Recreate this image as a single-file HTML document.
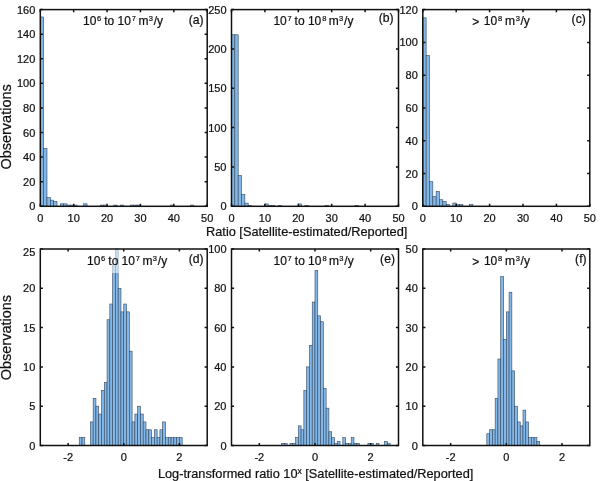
<!DOCTYPE html>
<html><head><meta charset="utf-8"><title>Histograms</title>
<style>
html,body{margin:0;padding:0;background:#fff;}
body{width:602px;height:481px;overflow:hidden;}
svg{display:block;will-change:transform;}
text{font-family:"Liberation Sans", sans-serif;fill:#111;stroke:#111;stroke-width:0.22px;}
.t{font-size:11px;}
.ti{font-size:12px;}
.sup{font-size:7.5px;}
.sup2{font-size:8.5px;}
.lt{font-size:12.2px;}
.xl{font-size:12.75px;}
.yl{font-size:14.5px;}
</style></head><body>
<svg width="602" height="481" viewBox="0 0 602 481">
<rect x="0" y="0" width="602" height="481" fill="#fff"/>
<g>
<rect x="40.3" y="16.98" width="3.34" height="189.32" fill="#82b7e8" stroke="#34475c" stroke-width="0.6"/>
<rect x="43.64" y="148.52" width="3.34" height="57.78" fill="#82b7e8" stroke="#34475c" stroke-width="0.6"/>
<rect x="46.98" y="197.69" width="3.34" height="8.61" fill="#82b7e8" stroke="#34475c" stroke-width="0.6"/>
<rect x="50.31" y="200.15" width="3.34" height="6.15" fill="#82b7e8" stroke="#34475c" stroke-width="0.6"/>
<rect x="53.65" y="201.38" width="3.34" height="4.92" fill="#82b7e8" stroke="#34475c" stroke-width="0.6"/>
<rect x="60.33" y="203.84" width="3.34" height="2.46" fill="#82b7e8" stroke="#34475c" stroke-width="0.6"/>
<rect x="63.67" y="203.84" width="3.34" height="2.46" fill="#82b7e8" stroke="#34475c" stroke-width="0.6"/>
<rect x="67" y="205.07" width="3.34" height="1.23" fill="#82b7e8" stroke="#34475c" stroke-width="0.6"/>
<rect x="70.34" y="205.07" width="3.34" height="1.23" fill="#82b7e8" stroke="#34475c" stroke-width="0.6"/>
<rect x="73.68" y="205.07" width="3.34" height="1.23" fill="#82b7e8" stroke="#34475c" stroke-width="0.6"/>
<rect x="83.69" y="203.84" width="3.34" height="2.46" fill="#82b7e8" stroke="#34475c" stroke-width="0.6"/>
<rect x="100.38" y="205.07" width="3.34" height="1.23" fill="#82b7e8" stroke="#34475c" stroke-width="0.6"/>
<rect x="103.72" y="205.07" width="3.34" height="1.23" fill="#82b7e8" stroke="#34475c" stroke-width="0.6"/>
<rect x="113.74" y="205.07" width="3.34" height="1.23" fill="#82b7e8" stroke="#34475c" stroke-width="0.6"/>
<rect x="120.41" y="205.07" width="3.34" height="1.23" fill="#82b7e8" stroke="#34475c" stroke-width="0.6"/>
<rect x="130.43" y="205.07" width="3.34" height="1.23" fill="#82b7e8" stroke="#34475c" stroke-width="0.6"/>
<rect x="133.76" y="205.07" width="3.34" height="1.23" fill="#82b7e8" stroke="#34475c" stroke-width="0.6"/>
<rect x="137.1" y="205.07" width="3.34" height="1.23" fill="#82b7e8" stroke="#34475c" stroke-width="0.6"/>
<rect x="170.48" y="205.07" width="3.34" height="1.23" fill="#82b7e8" stroke="#34475c" stroke-width="0.6"/>
<rect x="190.51" y="205.07" width="3.34" height="1.23" fill="#82b7e8" stroke="#34475c" stroke-width="0.6"/>
<rect x="40.3" y="9.6" width="166.9" height="196.7" fill="none" stroke="#111" stroke-width="1.5"/>
<path d="M40.3 206.3v-2.6M40.3 9.6v2.6M73.68 206.3v-2.6M73.68 9.6v2.6M107.06 206.3v-2.6M107.06 9.6v2.6M140.44 206.3v-2.6M140.44 9.6v2.6M173.82 206.3v-2.6M173.82 9.6v2.6M207.2 206.3v-2.6M207.2 9.6v2.6M40.3 206.3h2.6M207.2 206.3h-2.6M40.3 181.71h2.6M207.2 181.71h-2.6M40.3 157.12h2.6M207.2 157.12h-2.6M40.3 132.54h2.6M207.2 132.54h-2.6M40.3 107.95h2.6M207.2 107.95h-2.6M40.3 83.36h2.6M207.2 83.36h-2.6M40.3 58.78h2.6M207.2 58.78h-2.6M40.3 34.19h2.6M207.2 34.19h-2.6M40.3 9.6h2.6M207.2 9.6h-2.6" stroke="#111" stroke-width="1.5" fill="none"/>
<text x="40.3" y="221.6" text-anchor="middle" class="t">0</text>
<text x="73.68" y="221.6" text-anchor="middle" class="t">10</text>
<text x="107.06" y="221.6" text-anchor="middle" class="t">20</text>
<text x="140.44" y="221.6" text-anchor="middle" class="t">30</text>
<text x="173.82" y="221.6" text-anchor="middle" class="t">40</text>
<text x="207.2" y="221.6" text-anchor="middle" class="t">50</text>
<text x="35.3" y="210.3" text-anchor="end" class="t">0</text>
<text x="35.3" y="185.71" text-anchor="end" class="t">20</text>
<text x="35.3" y="161.12" text-anchor="end" class="t">40</text>
<text x="35.3" y="136.54" text-anchor="end" class="t">60</text>
<text x="35.3" y="111.95" text-anchor="end" class="t">80</text>
<text x="35.3" y="87.36" text-anchor="end" class="t">100</text>
<text x="35.3" y="62.78" text-anchor="end" class="t">120</text>
<text x="35.3" y="38.19" text-anchor="end" class="t">140</text>
<text x="35.3" y="13.6" text-anchor="end" class="t">160</text>
<text x="82.99" y="24.8" class="ti">10</text>
<text x="97.02" y="21.1" class="sup">6</text>
<text x="104.22" y="24.8" class="ti">to</text>
<text x="117.49" y="24.8" class="ti">10</text>
<text x="131.72" y="21.1" class="sup">7</text>
<text x="138.41" y="24.8" class="ti">m</text>
<text x="148.72" y="21.1" class="sup">3</text>
<text x="153.7" y="24.8" class="ti">/y</text>
<text x="203.7" y="24.3" text-anchor="end" class="lt">(a)</text>
</g>
<g>
<rect x="231.5" y="34.78" width="3.34" height="171.52" fill="#82b7e8" stroke="#34475c" stroke-width="0.6"/>
<rect x="234.84" y="34.78" width="3.34" height="171.52" fill="#82b7e8" stroke="#34475c" stroke-width="0.6"/>
<rect x="238.18" y="175.61" width="3.34" height="30.69" fill="#82b7e8" stroke="#34475c" stroke-width="0.6"/>
<rect x="241.52" y="194.5" width="3.34" height="11.8" fill="#82b7e8" stroke="#34475c" stroke-width="0.6"/>
<rect x="244.86" y="203.15" width="3.34" height="3.15" fill="#82b7e8" stroke="#34475c" stroke-width="0.6"/>
<rect x="248.2" y="205.51" width="3.34" height="0.79" fill="#82b7e8" stroke="#34475c" stroke-width="0.6"/>
<rect x="264.9" y="203.94" width="3.34" height="2.36" fill="#82b7e8" stroke="#34475c" stroke-width="0.6"/>
<rect x="268.24" y="205.51" width="3.34" height="0.79" fill="#82b7e8" stroke="#34475c" stroke-width="0.6"/>
<rect x="271.58" y="205.51" width="3.34" height="0.79" fill="#82b7e8" stroke="#34475c" stroke-width="0.6"/>
<rect x="278.26" y="205.51" width="3.34" height="0.79" fill="#82b7e8" stroke="#34475c" stroke-width="0.6"/>
<rect x="298.3" y="203.94" width="3.34" height="2.36" fill="#82b7e8" stroke="#34475c" stroke-width="0.6"/>
<rect x="304.98" y="205.51" width="3.34" height="0.79" fill="#82b7e8" stroke="#34475c" stroke-width="0.6"/>
<rect x="325.02" y="205.51" width="3.34" height="0.79" fill="#82b7e8" stroke="#34475c" stroke-width="0.6"/>
<rect x="355.08" y="205.51" width="3.34" height="0.79" fill="#82b7e8" stroke="#34475c" stroke-width="0.6"/>
<rect x="231.5" y="9.6" width="167" height="196.7" fill="none" stroke="#111" stroke-width="1.5"/>
<path d="M231.5 206.3v-2.6M231.5 9.6v2.6M264.9 206.3v-2.6M264.9 9.6v2.6M298.3 206.3v-2.6M298.3 9.6v2.6M331.7 206.3v-2.6M331.7 9.6v2.6M365.1 206.3v-2.6M365.1 9.6v2.6M398.5 206.3v-2.6M398.5 9.6v2.6M231.5 206.3h2.6M398.5 206.3h-2.6M231.5 166.96h2.6M398.5 166.96h-2.6M231.5 127.62h2.6M398.5 127.62h-2.6M231.5 88.28h2.6M398.5 88.28h-2.6M231.5 48.94h2.6M398.5 48.94h-2.6M231.5 9.6h2.6M398.5 9.6h-2.6" stroke="#111" stroke-width="1.5" fill="none"/>
<text x="231.5" y="221.6" text-anchor="middle" class="t">0</text>
<text x="264.9" y="221.6" text-anchor="middle" class="t">10</text>
<text x="298.3" y="221.6" text-anchor="middle" class="t">20</text>
<text x="331.7" y="221.6" text-anchor="middle" class="t">30</text>
<text x="365.1" y="221.6" text-anchor="middle" class="t">40</text>
<text x="398.5" y="221.6" text-anchor="middle" class="t">50</text>
<text x="226.5" y="210.3" text-anchor="end" class="t">0</text>
<text x="226.5" y="170.96" text-anchor="end" class="t">50</text>
<text x="226.5" y="131.62" text-anchor="end" class="t">100</text>
<text x="226.5" y="92.28" text-anchor="end" class="t">150</text>
<text x="226.5" y="52.94" text-anchor="end" class="t">200</text>
<text x="226.5" y="13.6" text-anchor="end" class="t">250</text>
<text x="273.39" y="25" class="ti">10</text>
<text x="287.42" y="21.3" class="sup">7</text>
<text x="294.62" y="25" class="ti">to</text>
<text x="307.89" y="25" class="ti">10</text>
<text x="322.18" y="21.3" class="sup">8</text>
<text x="328.81" y="25" class="ti">m</text>
<text x="339.11" y="21.3" class="sup">3</text>
<text x="344.1" y="25" class="ti">/y</text>
<text x="393.7" y="22.3" text-anchor="end" class="lt">(b)</text>
</g>
<g>
<rect x="422.8" y="17.8" width="3.34" height="188.5" fill="#82b7e8" stroke="#34475c" stroke-width="0.6"/>
<rect x="426.14" y="55.5" width="3.34" height="150.8" fill="#82b7e8" stroke="#34475c" stroke-width="0.6"/>
<rect x="429.48" y="181.71" width="3.34" height="24.59" fill="#82b7e8" stroke="#34475c" stroke-width="0.6"/>
<rect x="432.82" y="196.47" width="3.34" height="9.84" fill="#82b7e8" stroke="#34475c" stroke-width="0.6"/>
<rect x="436.16" y="191.55" width="3.34" height="14.75" fill="#82b7e8" stroke="#34475c" stroke-width="0.6"/>
<rect x="439.5" y="199.74" width="3.34" height="6.56" fill="#82b7e8" stroke="#34475c" stroke-width="0.6"/>
<rect x="442.84" y="201.38" width="3.34" height="4.92" fill="#82b7e8" stroke="#34475c" stroke-width="0.6"/>
<rect x="446.18" y="204.66" width="3.34" height="1.64" fill="#82b7e8" stroke="#34475c" stroke-width="0.6"/>
<rect x="452.86" y="203.02" width="3.34" height="3.28" fill="#82b7e8" stroke="#34475c" stroke-width="0.6"/>
<rect x="456.2" y="204.66" width="3.34" height="1.64" fill="#82b7e8" stroke="#34475c" stroke-width="0.6"/>
<rect x="459.54" y="204.66" width="3.34" height="1.64" fill="#82b7e8" stroke="#34475c" stroke-width="0.6"/>
<rect x="469.56" y="204.66" width="3.34" height="1.64" fill="#82b7e8" stroke="#34475c" stroke-width="0.6"/>
<rect x="422.8" y="9.6" width="167" height="196.7" fill="none" stroke="#111" stroke-width="1.5"/>
<path d="M422.8 206.3v-2.6M422.8 9.6v2.6M456.2 206.3v-2.6M456.2 9.6v2.6M489.6 206.3v-2.6M489.6 9.6v2.6M523 206.3v-2.6M523 9.6v2.6M556.4 206.3v-2.6M556.4 9.6v2.6M589.8 206.3v-2.6M589.8 9.6v2.6M422.8 206.3h2.6M589.8 206.3h-2.6M422.8 173.52h2.6M589.8 173.52h-2.6M422.8 140.73h2.6M589.8 140.73h-2.6M422.8 107.95h2.6M589.8 107.95h-2.6M422.8 75.17h2.6M589.8 75.17h-2.6M422.8 42.38h2.6M589.8 42.38h-2.6M422.8 9.6h2.6M589.8 9.6h-2.6" stroke="#111" stroke-width="1.5" fill="none"/>
<text x="422.8" y="221.6" text-anchor="middle" class="t">0</text>
<text x="456.2" y="221.6" text-anchor="middle" class="t">10</text>
<text x="489.6" y="221.6" text-anchor="middle" class="t">20</text>
<text x="523" y="221.6" text-anchor="middle" class="t">30</text>
<text x="556.4" y="221.6" text-anchor="middle" class="t">40</text>
<text x="589.8" y="221.6" text-anchor="middle" class="t">50</text>
<text x="417.8" y="210.3" text-anchor="end" class="t">0</text>
<text x="417.8" y="177.52" text-anchor="end" class="t">20</text>
<text x="417.8" y="144.73" text-anchor="end" class="t">40</text>
<text x="417.8" y="111.95" text-anchor="end" class="t">60</text>
<text x="417.8" y="79.17" text-anchor="end" class="t">80</text>
<text x="417.8" y="46.38" text-anchor="end" class="t">100</text>
<text x="417.8" y="13.6" text-anchor="end" class="t">120</text>
<text x="472.21" y="25.8" class="ti">&gt;</text>
<text x="483.79" y="25" class="ti">10</text>
<text x="497.88" y="21.3" class="sup">8</text>
<text x="505.01" y="25" class="ti">m</text>
<text x="515.72" y="21.3" class="sup">3</text>
<text x="520.5" y="25" class="ti">/y</text>
<text x="585.8" y="23.1" text-anchor="end" class="lt">(c)</text>
</g>
<g>
<rect x="79.24" y="437.64" width="2.78" height="7.86" fill="#82b7e8" stroke="#34475c" stroke-width="0.6"/>
<rect x="82.02" y="437.64" width="2.78" height="7.86" fill="#82b7e8" stroke="#34475c" stroke-width="0.6"/>
<rect x="90.37" y="421.92" width="2.78" height="23.58" fill="#82b7e8" stroke="#34475c" stroke-width="0.6"/>
<rect x="93.15" y="398.34" width="2.78" height="47.16" fill="#82b7e8" stroke="#34475c" stroke-width="0.6"/>
<rect x="95.93" y="406.2" width="2.78" height="39.3" fill="#82b7e8" stroke="#34475c" stroke-width="0.6"/>
<rect x="98.71" y="414.06" width="2.78" height="31.44" fill="#82b7e8" stroke="#34475c" stroke-width="0.6"/>
<rect x="101.5" y="390.48" width="2.78" height="55.02" fill="#82b7e8" stroke="#34475c" stroke-width="0.6"/>
<rect x="104.28" y="382.62" width="2.78" height="62.88" fill="#82b7e8" stroke="#34475c" stroke-width="0.6"/>
<rect x="107.06" y="319.74" width="2.78" height="125.76" fill="#82b7e8" stroke="#34475c" stroke-width="0.6"/>
<rect x="109.84" y="304.02" width="2.78" height="141.48" fill="#82b7e8" stroke="#34475c" stroke-width="0.6"/>
<rect x="112.62" y="264.72" width="2.78" height="180.78" fill="#82b7e8" stroke="#34475c" stroke-width="0.6"/>
<rect x="115.4" y="249" width="2.78" height="196.5" fill="#82b7e8" stroke="#34475c" stroke-width="0.6"/>
<rect x="118.19" y="288.3" width="2.78" height="157.2" fill="#82b7e8" stroke="#34475c" stroke-width="0.6"/>
<rect x="120.97" y="311.88" width="2.78" height="133.62" fill="#82b7e8" stroke="#34475c" stroke-width="0.6"/>
<rect x="123.75" y="304.02" width="2.78" height="141.48" fill="#82b7e8" stroke="#34475c" stroke-width="0.6"/>
<rect x="126.53" y="311.88" width="2.78" height="133.62" fill="#82b7e8" stroke="#34475c" stroke-width="0.6"/>
<rect x="129.31" y="351.18" width="2.78" height="94.32" fill="#82b7e8" stroke="#34475c" stroke-width="0.6"/>
<rect x="132.09" y="421.92" width="2.78" height="23.58" fill="#82b7e8" stroke="#34475c" stroke-width="0.6"/>
<rect x="134.88" y="414.06" width="2.78" height="31.44" fill="#82b7e8" stroke="#34475c" stroke-width="0.6"/>
<rect x="137.66" y="406.2" width="2.78" height="39.3" fill="#82b7e8" stroke="#34475c" stroke-width="0.6"/>
<rect x="140.44" y="414.06" width="2.78" height="31.44" fill="#82b7e8" stroke="#34475c" stroke-width="0.6"/>
<rect x="143.22" y="421.92" width="2.78" height="23.58" fill="#82b7e8" stroke="#34475c" stroke-width="0.6"/>
<rect x="146" y="429.78" width="2.78" height="15.72" fill="#82b7e8" stroke="#34475c" stroke-width="0.6"/>
<rect x="148.78" y="429.78" width="2.78" height="15.72" fill="#82b7e8" stroke="#34475c" stroke-width="0.6"/>
<rect x="151.57" y="437.64" width="2.78" height="7.86" fill="#82b7e8" stroke="#34475c" stroke-width="0.6"/>
<rect x="154.35" y="429.78" width="2.78" height="15.72" fill="#82b7e8" stroke="#34475c" stroke-width="0.6"/>
<rect x="157.13" y="437.64" width="2.78" height="7.86" fill="#82b7e8" stroke="#34475c" stroke-width="0.6"/>
<rect x="159.91" y="429.78" width="2.78" height="15.72" fill="#82b7e8" stroke="#34475c" stroke-width="0.6"/>
<rect x="162.69" y="421.92" width="2.78" height="23.58" fill="#82b7e8" stroke="#34475c" stroke-width="0.6"/>
<rect x="165.47" y="437.64" width="2.78" height="7.86" fill="#82b7e8" stroke="#34475c" stroke-width="0.6"/>
<rect x="168.26" y="437.64" width="2.78" height="7.86" fill="#82b7e8" stroke="#34475c" stroke-width="0.6"/>
<rect x="171.04" y="437.64" width="2.78" height="7.86" fill="#82b7e8" stroke="#34475c" stroke-width="0.6"/>
<rect x="173.82" y="437.64" width="2.78" height="7.86" fill="#82b7e8" stroke="#34475c" stroke-width="0.6"/>
<rect x="176.6" y="437.64" width="2.78" height="7.86" fill="#82b7e8" stroke="#34475c" stroke-width="0.6"/>
<rect x="179.38" y="437.64" width="2.78" height="7.86" fill="#82b7e8" stroke="#34475c" stroke-width="0.6"/>
<rect x="84" y="249" width="88" height="24" fill="#fff" fill-opacity="0.55"/>
<rect x="40.3" y="249" width="166.9" height="196.5" fill="none" stroke="#111" stroke-width="1.5"/>
<path d="M68.12 445.5v-2.6M68.12 249v2.6M123.75 445.5v-2.6M123.75 249v2.6M179.38 445.5v-2.6M179.38 249v2.6M40.3 445.5h2.6M207.2 445.5h-2.6M40.3 406.2h2.6M207.2 406.2h-2.6M40.3 366.9h2.6M207.2 366.9h-2.6M40.3 327.6h2.6M207.2 327.6h-2.6M40.3 288.3h2.6M207.2 288.3h-2.6M40.3 249h2.6M207.2 249h-2.6" stroke="#111" stroke-width="1.5" fill="none"/>
<text x="68.12" y="460.8" text-anchor="middle" class="t">-2</text>
<text x="123.75" y="460.8" text-anchor="middle" class="t">0</text>
<text x="179.38" y="460.8" text-anchor="middle" class="t">2</text>
<text x="35.3" y="449.5" text-anchor="end" class="t">0</text>
<text x="35.3" y="410.2" text-anchor="end" class="t">5</text>
<text x="35.3" y="370.9" text-anchor="end" class="t">10</text>
<text x="35.3" y="331.6" text-anchor="end" class="t">15</text>
<text x="35.3" y="292.3" text-anchor="end" class="t">20</text>
<text x="35.3" y="255.7" text-anchor="end" class="t">25</text>
<text x="87.09" y="265" class="ti">10</text>
<text x="101.12" y="261.3" class="sup">6</text>
<text x="108.32" y="265" class="ti">to</text>
<text x="121.59" y="265" class="ti">10</text>
<text x="135.82" y="261.3" class="sup">7</text>
<text x="142.51" y="265" class="ti">m</text>
<text x="152.81" y="261.3" class="sup">3</text>
<text x="157.8" y="265" class="ti">/y</text>
<text x="203.6" y="263.2" text-anchor="end" class="lt">(d)</text>
</g>
<g>
<rect x="281.6" y="443.54" width="2.78" height="1.96" fill="#82b7e8" stroke="#34475c" stroke-width="0.6"/>
<rect x="284.38" y="443.54" width="2.78" height="1.96" fill="#82b7e8" stroke="#34475c" stroke-width="0.6"/>
<rect x="289.95" y="443.54" width="2.78" height="1.96" fill="#82b7e8" stroke="#34475c" stroke-width="0.6"/>
<rect x="292.73" y="443.54" width="2.78" height="1.96" fill="#82b7e8" stroke="#34475c" stroke-width="0.6"/>
<rect x="295.52" y="437.64" width="2.78" height="7.86" fill="#82b7e8" stroke="#34475c" stroke-width="0.6"/>
<rect x="298.3" y="425.85" width="2.78" height="19.65" fill="#82b7e8" stroke="#34475c" stroke-width="0.6"/>
<rect x="301.08" y="429.78" width="2.78" height="15.72" fill="#82b7e8" stroke="#34475c" stroke-width="0.6"/>
<rect x="303.87" y="390.48" width="2.78" height="55.02" fill="#82b7e8" stroke="#34475c" stroke-width="0.6"/>
<rect x="306.65" y="366.9" width="2.78" height="78.6" fill="#82b7e8" stroke="#34475c" stroke-width="0.6"/>
<rect x="309.43" y="345.28" width="2.78" height="100.22" fill="#82b7e8" stroke="#34475c" stroke-width="0.6"/>
<rect x="312.22" y="302.06" width="2.78" height="143.44" fill="#82b7e8" stroke="#34475c" stroke-width="0.6"/>
<rect x="315" y="270.62" width="2.78" height="174.88" fill="#82b7e8" stroke="#34475c" stroke-width="0.6"/>
<rect x="317.78" y="315.81" width="2.78" height="129.69" fill="#82b7e8" stroke="#34475c" stroke-width="0.6"/>
<rect x="320.57" y="321.7" width="2.78" height="123.8" fill="#82b7e8" stroke="#34475c" stroke-width="0.6"/>
<rect x="323.35" y="388.51" width="2.78" height="56.99" fill="#82b7e8" stroke="#34475c" stroke-width="0.6"/>
<rect x="326.13" y="408.17" width="2.78" height="37.33" fill="#82b7e8" stroke="#34475c" stroke-width="0.6"/>
<rect x="328.92" y="431.75" width="2.78" height="13.75" fill="#82b7e8" stroke="#34475c" stroke-width="0.6"/>
<rect x="331.7" y="437.64" width="2.78" height="7.86" fill="#82b7e8" stroke="#34475c" stroke-width="0.6"/>
<rect x="334.48" y="443.54" width="2.78" height="1.96" fill="#82b7e8" stroke="#34475c" stroke-width="0.6"/>
<rect x="337.27" y="441.57" width="2.78" height="3.93" fill="#82b7e8" stroke="#34475c" stroke-width="0.6"/>
<rect x="342.83" y="437.64" width="2.78" height="7.86" fill="#82b7e8" stroke="#34475c" stroke-width="0.6"/>
<rect x="345.62" y="443.54" width="2.78" height="1.96" fill="#82b7e8" stroke="#34475c" stroke-width="0.6"/>
<rect x="348.4" y="443.54" width="2.78" height="1.96" fill="#82b7e8" stroke="#34475c" stroke-width="0.6"/>
<rect x="351.18" y="437.64" width="2.78" height="7.86" fill="#82b7e8" stroke="#34475c" stroke-width="0.6"/>
<rect x="353.97" y="443.54" width="2.78" height="1.96" fill="#82b7e8" stroke="#34475c" stroke-width="0.6"/>
<rect x="356.75" y="443.54" width="2.78" height="1.96" fill="#82b7e8" stroke="#34475c" stroke-width="0.6"/>
<rect x="367.88" y="443.54" width="2.78" height="1.96" fill="#82b7e8" stroke="#34475c" stroke-width="0.6"/>
<rect x="370.67" y="443.54" width="2.78" height="1.96" fill="#82b7e8" stroke="#34475c" stroke-width="0.6"/>
<rect x="376.23" y="443.54" width="2.78" height="1.96" fill="#82b7e8" stroke="#34475c" stroke-width="0.6"/>
<rect x="384.58" y="441.57" width="2.78" height="3.93" fill="#82b7e8" stroke="#34475c" stroke-width="0.6"/>
<rect x="387.37" y="443.54" width="2.78" height="1.96" fill="#82b7e8" stroke="#34475c" stroke-width="0.6"/>
<rect x="231.5" y="249" width="167" height="196.5" fill="none" stroke="#111" stroke-width="1.5"/>
<path d="M259.33 445.5v-2.6M259.33 249v2.6M315 445.5v-2.6M315 249v2.6M370.67 445.5v-2.6M370.67 249v2.6M231.5 445.5h2.6M398.5 445.5h-2.6M231.5 406.2h2.6M398.5 406.2h-2.6M231.5 366.9h2.6M398.5 366.9h-2.6M231.5 327.6h2.6M398.5 327.6h-2.6M231.5 288.3h2.6M398.5 288.3h-2.6M231.5 249h2.6M398.5 249h-2.6" stroke="#111" stroke-width="1.5" fill="none"/>
<text x="259.33" y="460.8" text-anchor="middle" class="t">-2</text>
<text x="315" y="460.8" text-anchor="middle" class="t">0</text>
<text x="370.67" y="460.8" text-anchor="middle" class="t">2</text>
<text x="226.5" y="449.5" text-anchor="end" class="t">0</text>
<text x="226.5" y="410.2" text-anchor="end" class="t">20</text>
<text x="226.5" y="370.9" text-anchor="end" class="t">40</text>
<text x="226.5" y="331.6" text-anchor="end" class="t">60</text>
<text x="226.5" y="292.3" text-anchor="end" class="t">80</text>
<text x="226.5" y="253" text-anchor="end" class="t">100</text>
<text x="273.59" y="265" class="ti">10</text>
<text x="287.62" y="261.3" class="sup">7</text>
<text x="294.82" y="265" class="ti">to</text>
<text x="308.09" y="265" class="ti">10</text>
<text x="322.38" y="261.3" class="sup">8</text>
<text x="329.01" y="265" class="ti">m</text>
<text x="339.31" y="261.3" class="sup">3</text>
<text x="344.3" y="265" class="ti">/y</text>
<text x="395" y="263.1" text-anchor="end" class="lt">(e)</text>
</g>
<g>
<rect x="486.82" y="433.71" width="2.78" height="11.79" fill="#82b7e8" stroke="#34475c" stroke-width="0.6"/>
<rect x="489.6" y="429.78" width="2.78" height="15.72" fill="#82b7e8" stroke="#34475c" stroke-width="0.6"/>
<rect x="492.38" y="429.78" width="2.78" height="15.72" fill="#82b7e8" stroke="#34475c" stroke-width="0.6"/>
<rect x="495.17" y="398.34" width="2.78" height="47.16" fill="#82b7e8" stroke="#34475c" stroke-width="0.6"/>
<rect x="497.95" y="359.04" width="2.78" height="86.46" fill="#82b7e8" stroke="#34475c" stroke-width="0.6"/>
<rect x="500.73" y="276.51" width="2.78" height="168.99" fill="#82b7e8" stroke="#34475c" stroke-width="0.6"/>
<rect x="503.52" y="339.39" width="2.78" height="106.11" fill="#82b7e8" stroke="#34475c" stroke-width="0.6"/>
<rect x="506.3" y="311.88" width="2.78" height="133.62" fill="#82b7e8" stroke="#34475c" stroke-width="0.6"/>
<rect x="509.08" y="292.23" width="2.78" height="153.27" fill="#82b7e8" stroke="#34475c" stroke-width="0.6"/>
<rect x="511.87" y="370.83" width="2.78" height="74.67" fill="#82b7e8" stroke="#34475c" stroke-width="0.6"/>
<rect x="514.65" y="406.2" width="2.78" height="39.3" fill="#82b7e8" stroke="#34475c" stroke-width="0.6"/>
<rect x="517.43" y="421.92" width="2.78" height="23.58" fill="#82b7e8" stroke="#34475c" stroke-width="0.6"/>
<rect x="520.22" y="425.85" width="2.78" height="19.65" fill="#82b7e8" stroke="#34475c" stroke-width="0.6"/>
<rect x="523" y="410.13" width="2.78" height="35.37" fill="#82b7e8" stroke="#34475c" stroke-width="0.6"/>
<rect x="525.78" y="421.92" width="2.78" height="23.58" fill="#82b7e8" stroke="#34475c" stroke-width="0.6"/>
<rect x="528.57" y="437.64" width="2.78" height="7.86" fill="#82b7e8" stroke="#34475c" stroke-width="0.6"/>
<rect x="531.35" y="437.64" width="2.78" height="7.86" fill="#82b7e8" stroke="#34475c" stroke-width="0.6"/>
<rect x="534.13" y="437.64" width="2.78" height="7.86" fill="#82b7e8" stroke="#34475c" stroke-width="0.6"/>
<rect x="536.92" y="441.57" width="2.78" height="3.93" fill="#82b7e8" stroke="#34475c" stroke-width="0.6"/>
<rect x="422.8" y="249" width="167" height="196.5" fill="none" stroke="#111" stroke-width="1.5"/>
<path d="M450.63 445.5v-2.6M450.63 249v2.6M506.3 445.5v-2.6M506.3 249v2.6M561.97 445.5v-2.6M561.97 249v2.6M422.8 445.5h2.6M589.8 445.5h-2.6M422.8 406.2h2.6M589.8 406.2h-2.6M422.8 366.9h2.6M589.8 366.9h-2.6M422.8 327.6h2.6M589.8 327.6h-2.6M422.8 288.3h2.6M589.8 288.3h-2.6M422.8 249h2.6M589.8 249h-2.6" stroke="#111" stroke-width="1.5" fill="none"/>
<text x="450.63" y="460.8" text-anchor="middle" class="t">-2</text>
<text x="506.3" y="460.8" text-anchor="middle" class="t">0</text>
<text x="561.97" y="460.8" text-anchor="middle" class="t">2</text>
<text x="417.8" y="449.5" text-anchor="end" class="t">0</text>
<text x="417.8" y="410.2" text-anchor="end" class="t">10</text>
<text x="417.8" y="370.9" text-anchor="end" class="t">20</text>
<text x="417.8" y="331.6" text-anchor="end" class="t">30</text>
<text x="417.8" y="292.3" text-anchor="end" class="t">40</text>
<text x="417.8" y="253" text-anchor="end" class="t">50</text>
<text x="472.31" y="265.8" class="ti">&gt;</text>
<text x="483.89" y="265" class="ti">10</text>
<text x="497.98" y="261.3" class="sup">8</text>
<text x="505.11" y="265" class="ti">m</text>
<text x="515.82" y="261.3" class="sup">3</text>
<text x="520.6" y="265" class="ti">/y</text>
<text x="586.6" y="262.6" text-anchor="end" class="lt">(f)</text>
</g>
<text x="306.7" y="235.6" text-anchor="middle" class="xl">Ratio [Satellite-estimated/Reported]</text>
<text x="315.6" y="478" text-anchor="middle" class="xl" xml:space="preserve">Log-transformed ratio 10<tspan class="sup2" dy="-4.5">x</tspan><tspan dy="4.5"> [Satellite-estimated/Reported]</tspan></text>
<text transform="translate(11.3 126.9) rotate(-90)" text-anchor="middle" class="yl">Observations</text>
<text transform="translate(11.3 337.6) rotate(-90)" text-anchor="middle" class="yl">Observations</text>
</svg>
</body></html>
